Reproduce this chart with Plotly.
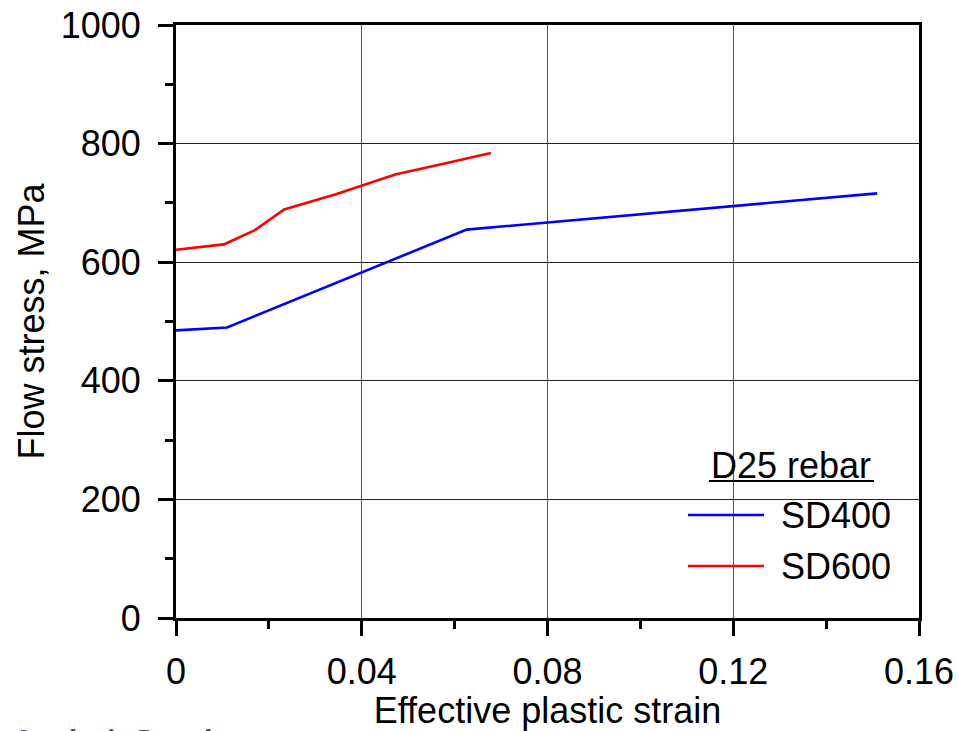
import plotly.graph_objects as go

# ---- data ----
sd400_strain = [0.0, 0.011, 0.0626, 0.151]
sd400_stress = [485, 490, 655, 716]
sd600_strain = [0.0, 0.0103, 0.0170, 0.0233, 0.0346, 0.0472, 0.0576, 0.0678]
sd600_stress = [621, 630, 654, 689, 715, 748, 766, 784]
series_names = ["SD400", "SD600"]
series_colors = ["#0000FF", "#FF0000"]
x_ticks = [0, 0.04, 0.08, 0.12, 0.16]
x_ticklabels = ["0", "0.04", "0.08", "0.12", "0.16"]
y_ticks = [0, 200, 400, 600, 800, 1000]
legend_title = "D25 rebar"

FONT = "Liberation Sans, Arial, sans-serif"
FS = 36

fig = go.Figure()
for xs, ys, name, col in zip([sd400_strain, sd600_strain], [sd400_stress, sd600_stress],
                             series_names, series_colors):
    fig.add_trace(go.Scatter(x=xs, y=ys, mode="lines", name=name,
                             line=dict(color=col, width=2.6), showlegend=False))

# plot area pixel geometry (for legend placement)
L, R, T, B = 176, 919, 25, 618
def px(x):
    return (x - L) / (R - L)
def py(y):
    return (B - y) / (B - T)

shapes = [
    # white legend background over gridlines
    dict(type="rect", xref="paper", yref="paper", x0=px(670), x1=px(913), y0=py(606), y1=py(425),
         fillcolor="white", line=dict(width=0), layer="between"),
    # underline of legend title
    dict(type="line", xref="paper", yref="paper", x0=px(709), x1=px(874), y0=py(481), y1=py(481),
         line=dict(color="black", width=2), layer="above"),
]
annotations = [
    dict(xref="paper", yref="paper", x=px(791), y=py(465), text=legend_title, showarrow=False,
         xanchor="center", yanchor="middle", font=dict(family=FONT, size=FS, color="black")),
]
leg_y = [515, 566]
for name, col, yy in zip(series_names, series_colors, leg_y):
    shapes.append(dict(type="line", xref="paper", yref="paper", x0=px(688), x1=px(764),
                       y0=py(yy), y1=py(yy), line=dict(color=col, width=2.6), layer="above"))
    annotations.append(dict(xref="paper", yref="paper", x=px(779), y=py(yy), text=name,
                            showarrow=False, xanchor="left", yanchor="middle",
                            font=dict(family=FONT, size=FS, color="black")))

# cut-off slide text at bottom-left (clipped by the page edge, as in the reference)
annotations.append(dict(xref="paper", yref="paper", x=px(12), y=py(719), text="<b>Analysis Results</b>",
                        showarrow=False, xanchor="left", yanchor="top",
                        font=dict(family="Open Sans, sans-serif", size=28, color="#2F5496")))

fig.update_layout(
    width=959, height=731,
    margin=dict(l=L, r=959 - R, t=T, b=731 - B),
    paper_bgcolor="white", plot_bgcolor="white",
    font=dict(family=FONT, size=FS, color="black"),
    shapes=shapes, annotations=annotations,
    showlegend=False,
)
fig.update_xaxes(
    range=[0, 0.16], tickvals=x_ticks, ticktext=x_ticklabels,
    showline=True, linecolor="black", linewidth=3, mirror=True,
    ticks="outside", ticklen=15, tickwidth=3, tickcolor="black",
    showgrid=True, gridcolor="#555555", gridwidth=1,
    minor=dict(dtick=0.02, ticks="outside", ticklen=8, tickwidth=3, tickcolor="black", showgrid=False),
    zeroline=False, ticklabelstandoff=5, automargin=False,
    title=dict(text="Effective plastic strain", font=dict(family=FONT, size=FS), standoff=6),
    tickfont=dict(family=FONT, size=FS),
)
fig.update_yaxes(
    range=[0, 1000], tickvals=y_ticks,
    showline=True, linecolor="black", linewidth=3, mirror=True,
    ticks="outside", ticklen=15, tickwidth=3, tickcolor="black",
    showgrid=True, gridcolor="#222222", gridwidth=1,
    minor=dict(dtick=100, ticks="outside", ticklen=8, tickwidth=3, tickcolor="black", showgrid=False),
    zeroline=False, ticklabelstandoff=10, automargin=False,
    title=dict(text="Flow stress, MPa", font=dict(family=FONT, size=FS), standoff=6),
    tickfont=dict(family=FONT, size=FS),
)

fig.write_html("out.html")
